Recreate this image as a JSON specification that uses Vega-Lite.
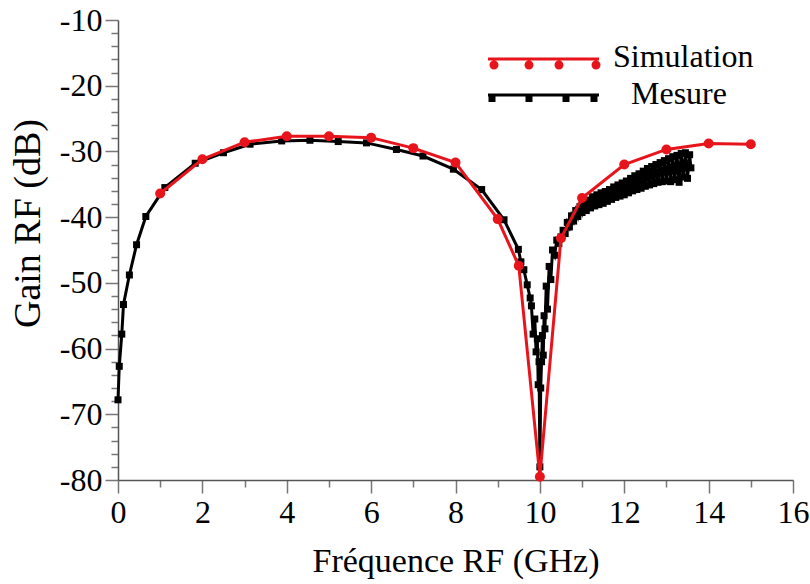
{
  "$schema": "https://vega.github.io/schema/vega-lite/v6.json",
  "width": 675,
  "height": 460,
  "autosize": "none",
  "padding": {"left": 118, "top": 20, "right": 17, "bottom": 104},
  "background": "white",
  "config": {
    "view": {"stroke": null},
    "font": "Liberation Serif",
    "axis": {
      "grid": false,
      "domainColor": "#555555",
      "domainWidth": 1.5,
      "tickColor": "#777777",
      "tickWidth": 1.5,
      "labelColor": "#000000",
      "labelFont": "Liberation Serif",
      "labelFontSize": 32,
      "titleFont": "Liberation Serif",
      "titleFontSize": 34,
      "titleFontWeight": "normal",
      "titleColor": "#000000",
      "labelOverlap": false,
      "labelBound": false,
      "labelFlush": false
    }
  },
  "data": {
    "values": [
      {"serie": "Simulation", "f": 1, "g": -36.4},
      {"serie": "Simulation", "f": 2, "g": -31.2},
      {"serie": "Simulation", "f": 3, "g": -28.6},
      {"serie": "Simulation", "f": 4, "g": -27.7},
      {"serie": "Simulation", "f": 5, "g": -27.7},
      {"serie": "Simulation", "f": 6, "g": -27.9},
      {"serie": "Simulation", "f": 7, "g": -29.5},
      {"serie": "Simulation", "f": 8, "g": -31.7},
      {"serie": "Simulation", "f": 9, "g": -40.3},
      {"serie": "Simulation", "f": 9.5, "g": -47.4},
      {"serie": "Simulation", "f": 10, "g": -79.5},
      {"serie": "Simulation", "f": 10.5, "g": -43.2},
      {"serie": "Simulation", "f": 11, "g": -37.1},
      {"serie": "Simulation", "f": 12, "g": -32.0},
      {"serie": "Simulation", "f": 13, "g": -29.7},
      {"serie": "Simulation", "f": 14, "g": -28.8},
      {"serie": "Simulation", "f": 15, "g": -28.9},

      {"serie": "Mesure", "f": 0.0, "g": -67.8},
      {"serie": "Mesure", "f": 0.03, "g": -62.7},
      {"serie": "Mesure", "f": 0.09, "g": -57.8},
      {"serie": "Mesure", "f": 0.13, "g": -53.3},
      {"serie": "Mesure", "f": 0.27, "g": -48.8},
      {"serie": "Mesure", "f": 0.44, "g": -44.2},
      {"serie": "Mesure", "f": 0.66, "g": -39.9},
      {"serie": "Mesure", "f": 1.11, "g": -35.5},
      {"serie": "Mesure", "f": 1.83, "g": -31.8},
      {"serie": "Mesure", "f": 2.5, "g": -30.2},
      {"serie": "Mesure", "f": 3.13, "g": -28.9},
      {"serie": "Mesure", "f": 3.88, "g": -28.4},
      {"serie": "Mesure", "f": 4.55, "g": -28.3},
      {"serie": "Mesure", "f": 5.22, "g": -28.5},
      {"serie": "Mesure", "f": 5.89, "g": -28.7},
      {"serie": "Mesure", "f": 6.6, "g": -29.7},
      {"serie": "Mesure", "f": 7.23, "g": -30.7},
      {"serie": "Mesure", "f": 7.95, "g": -32.7},
      {"serie": "Mesure", "f": 8.62, "g": -35.8},
      {"serie": "Mesure", "f": 9.15, "g": -40.4},
      {"serie": "Mesure", "f": 9.49, "g": -44.9},
      {"serie": "Mesure", "f": 9.55, "g": -46.8},
      {"serie": "Mesure", "f": 9.62, "g": -48.0},
      {"serie": "Mesure", "f": 9.7, "g": -50.3},
      {"serie": "Mesure", "f": 9.77, "g": -52.3},
      {"serie": "Mesure", "f": 9.8, "g": -53.5},
      {"serie": "Mesure", "f": 9.84, "g": -57.8},
      {"serie": "Mesure", "f": 9.88, "g": -55.5},
      {"serie": "Mesure", "f": 9.91, "g": -60.5},
      {"serie": "Mesure", "f": 9.94, "g": -58.5},
      {"serie": "Mesure", "f": 9.96, "g": -65.5},
      {"serie": "Mesure", "f": 9.98, "g": -62.0},
      {"serie": "Mesure", "f": 10.0, "g": -78.0},
      {"serie": "Mesure", "f": 10.02, "g": -66.0},
      {"serie": "Mesure", "f": 10.04, "g": -62.0},
      {"serie": "Mesure", "f": 10.06, "g": -58.0},
      {"serie": "Mesure", "f": 10.08, "g": -61.0},
      {"serie": "Mesure", "f": 10.1, "g": -55.0},
      {"serie": "Mesure", "f": 10.12, "g": -57.0},
      {"serie": "Mesure", "f": 10.15, "g": -50.5},
      {"serie": "Mesure", "f": 10.18, "g": -54.0},
      {"serie": "Mesure", "f": 10.22, "g": -47.5},
      {"serie": "Mesure", "f": 10.26, "g": -49.5},
      {"serie": "Mesure", "f": 10.3, "g": -45.0},
      {"serie": "Mesure", "f": 10.35, "g": -45.8},
      {"serie": "Mesure", "f": 10.4, "g": -43.5},
      {"serie": "Mesure", "f": 10.45, "g": -44.0},
      {"serie": "Mesure", "f": 10.5, "g": -43.0},
      {"serie": "Mesure", "f": 10.55, "g": -42.0},
      {"serie": "Mesure", "f": 10.6, "g": -42.5},
      {"serie": "Mesure", "f": 10.65, "g": -40.8},
      {"serie": "Mesure", "f": 10.7, "g": -41.5},
      {"serie": "Mesure", "f": 10.75, "g": -39.8},
      {"serie": "Mesure", "f": 10.8, "g": -40.6},
      {"serie": "Mesure", "f": 10.85, "g": -39.0},
      {"serie": "Mesure", "f": 10.9, "g": -39.9},
      {"serie": "Mesure", "f": 10.95, "g": -38.4},
      {"serie": "Mesure", "f": 11.0, "g": -39.3},
      {"serie": "Mesure", "f": 11.05, "g": -37.9},
      {"serie": "Mesure", "f": 11.1, "g": -39.0},
      {"serie": "Mesure", "f": 11.15, "g": -37.4},
      {"serie": "Mesure", "f": 11.2, "g": -38.6},
      {"serie": "Mesure", "f": 11.25, "g": -36.9},
      {"serie": "Mesure", "f": 11.3, "g": -38.3},
      {"serie": "Mesure", "f": 11.35, "g": -36.6},
      {"serie": "Mesure", "f": 11.4, "g": -38.1},
      {"serie": "Mesure", "f": 11.45, "g": -36.3},
      {"serie": "Mesure", "f": 11.5, "g": -37.9},
      {"serie": "Mesure", "f": 11.55, "g": -36.1},
      {"serie": "Mesure", "f": 11.6, "g": -37.6},
      {"serie": "Mesure", "f": 11.65, "g": -35.8},
      {"serie": "Mesure", "f": 11.7, "g": -37.3},
      {"serie": "Mesure", "f": 11.75, "g": -35.4},
      {"serie": "Mesure", "f": 11.8, "g": -37.0},
      {"serie": "Mesure", "f": 11.85, "g": -35.1},
      {"serie": "Mesure", "f": 11.9, "g": -36.8},
      {"serie": "Mesure", "f": 11.95, "g": -34.8},
      {"serie": "Mesure", "f": 12.0, "g": -36.6},
      {"serie": "Mesure", "f": 12.05, "g": -34.5},
      {"serie": "Mesure", "f": 12.1, "g": -36.3},
      {"serie": "Mesure", "f": 12.15, "g": -34.1},
      {"serie": "Mesure", "f": 12.2, "g": -36.0},
      {"serie": "Mesure", "f": 12.25, "g": -33.7},
      {"serie": "Mesure", "f": 12.3, "g": -35.8},
      {"serie": "Mesure", "f": 12.35, "g": -33.4},
      {"serie": "Mesure", "f": 12.4, "g": -35.6},
      {"serie": "Mesure", "f": 12.45, "g": -33.0},
      {"serie": "Mesure", "f": 12.5, "g": -35.3},
      {"serie": "Mesure", "f": 12.55, "g": -32.6},
      {"serie": "Mesure", "f": 12.6, "g": -35.1},
      {"serie": "Mesure", "f": 12.65, "g": -32.3},
      {"serie": "Mesure", "f": 12.7, "g": -34.9},
      {"serie": "Mesure", "f": 12.75, "g": -32.0},
      {"serie": "Mesure", "f": 12.8, "g": -34.7},
      {"serie": "Mesure", "f": 12.85, "g": -31.7},
      {"serie": "Mesure", "f": 12.9, "g": -34.6},
      {"serie": "Mesure", "f": 12.95, "g": -31.4},
      {"serie": "Mesure", "f": 13.0, "g": -34.5},
      {"serie": "Mesure", "f": 13.05, "g": -31.1},
      {"serie": "Mesure", "f": 13.1, "g": -34.6},
      {"serie": "Mesure", "f": 13.15, "g": -30.8},
      {"serie": "Mesure", "f": 13.2, "g": -34.3},
      {"serie": "Mesure", "f": 13.25, "g": -30.6},
      {"serie": "Mesure", "f": 13.3, "g": -34.7},
      {"serie": "Mesure", "f": 13.35, "g": -30.3},
      {"serie": "Mesure", "f": 13.4, "g": -33.9},
      {"serie": "Mesure", "f": 13.45, "g": -30.2},
      {"serie": "Mesure", "f": 13.5, "g": -34.1},
      {"serie": "Mesure", "f": 13.55, "g": -30.5},
      {"serie": "Mesure", "f": 13.58, "g": -32.5}
    ]
  },
  "encoding": {
    "x": {
      "field": "f",
      "type": "quantitative",
      "scale": {"domain": [0, 16], "nice": false, "zero": false},
      "axis": {
        "title": "Fréquence RF (GHz)",
        "values": [0, 1, 2, 3, 4, 5, 6, 7, 8, 9, 10, 11, 12, 13, 14, 15, 16],
        "labelExpr": "datum.value % 2 === 0 ? datum.label : ''",
        "tickSize": {"condition": {"test": "datum.value % 2 === 0", "value": 13}, "value": 7},
        "labelPadding": 4,
        "titlePadding": 16
      }
    },
    "y": {
      "field": "g",
      "type": "quantitative",
      "scale": {"domain": [-80, -10], "nice": false, "zero": false},
      "axis": {
        "title": "Gain RF (dB)",
        "titleFontSize": 38,
        "titleY": 203,
        "values": [-80, -78, -76, -74, -72, -70, -68, -66, -64, -62, -60, -58, -56, -54, -52, -50, -48, -46, -44, -42, -40, -38, -36, -34, -32, -30, -28, -26, -24, -22, -20, -18, -16, -14, -12, -10],
        "labelExpr": "datum.value % 10 === 0 ? '-' + abs(datum.value) : ''",
        "tickSize": {"condition": {"test": "datum.value % 10 === 0", "value": 13}, "value": 7},
        "labelPadding": 3,
        "titlePadding": 12
      }
    }
  },
  "layer": [
    {
      "transform": [{"filter": "datum.serie === 'Mesure'"}],
      "mark": {"type": "line", "strokeWidth": 3, "interpolate": "linear"},
      "encoding": {
        "color": {
          "field": "serie",
          "type": "nominal",
          "scale": {"domain": ["Simulation", "Mesure"], "range": ["#e8141c", "#000000"]},
          "legend": {
            "orient": "none",
            "legendX": 410,
            "legendY": 21,
            "title": null,
            "padding": 0,
            "symbolSize": 400,
            "labelOffset": 53,
            "labelFont": "Liberation Serif",
            "labelFontSize": 32,
            "labelColor": "#000000",
            "rowPadding": 5,
            "encode": {
              "symbols": {
                "update": {
                  "shape": {"signal": "datum.value === 'Simulation' ? 'M-5.6,0.05L5.5,0.05L5.5,0.35L-5.6,0.35Z M-5.45,0.8A0.45,0.45 0 1,1 -4.55,0.8A0.45,0.45 0 1,1 -5.45,0.8Z M-1.95,0.8A0.45,0.45 0 1,1 -1.05,0.8A0.45,0.45 0 1,1 -1.95,0.8Z M1.05,0.8A0.45,0.45 0 1,1 1.95,0.8A0.45,0.45 0 1,1 1.05,0.8Z M4.75,0.8A0.45,0.45 0 1,1 5.65,0.8A0.45,0.45 0 1,1 4.75,0.8Z' : 'M-5.6,-0.05L5.5,-0.05L5.5,0.25L-5.6,0.25Z M-5.55,0.1L-4.85,0.1L-4.85,0.8L-5.55,0.8Z M-1.85,0.1L-1.15,0.1L-1.15,0.8L-1.85,0.8Z M1.85,0.1L2.55,0.1L2.55,0.8L1.85,0.8Z M4.65,0.1L5.35,0.1L5.35,0.8L4.65,0.8Z'"},
                  "fill": {"signal": "datum.value === 'Simulation' ? '#e8141c' : '#000000'"},
                  "fillOpacity": {"value": 1},
                  "opacity": {"value": 1},
                  "stroke": {"value": "transparent"},
                  "strokeWidth": {"value": 0}
                }
              },
              "labels": {
                "update": {
                  "dx": {"signal": "datum.value === 'Mesure' ? 18 : 0"}
                }
              }
            }
          }
        }
      }
    },
    {
      "transform": [{"filter": "datum.serie === 'Mesure'"}],
      "mark": {"type": "point", "shape": "square", "filled": true, "size": 49, "color": "#000000", "opacity": 1},
      "encoding": {}
    },
    {
      "transform": [{"filter": "datum.serie === 'Simulation'"}],
      "mark": {"type": "line", "strokeWidth": 3, "color": "#e8141c", "interpolate": "linear"},
      "encoding": {}
    },
    {
      "transform": [{"filter": "datum.serie === 'Simulation'"}],
      "mark": {"type": "point", "shape": "circle", "filled": true, "size": 100, "color": "#e8141c", "opacity": 1},
      "encoding": {}
    }
  ]
}
